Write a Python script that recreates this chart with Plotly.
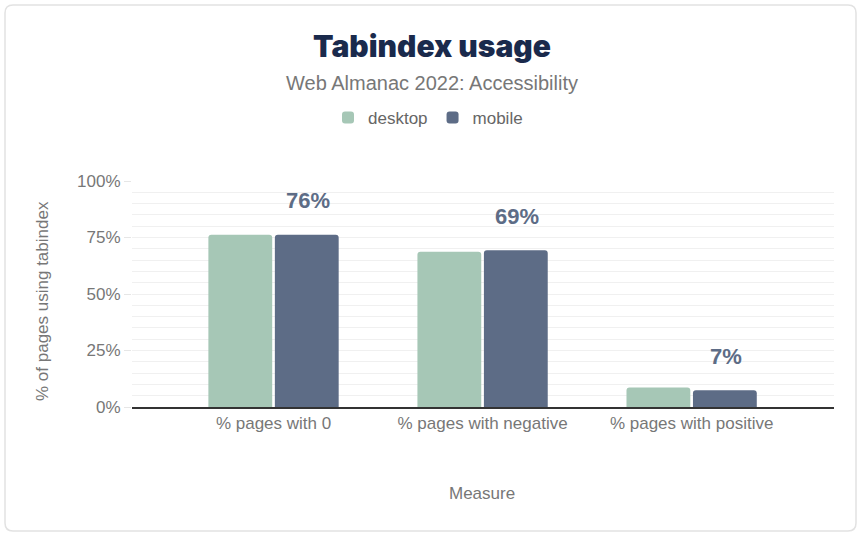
import plotly.graph_objects as go

categories = ["% pages with 0", "% pages with negative", "% pages with positive"]
desktop = [76.2, 68.7, 8.6]
mobile = [76.2, 69.4, 7.4]
label_text = ["76%", "69%", "7%"]
y_ticks = [0, 25, 50, 75, 100]
y_tick_labels = ["0%", "25%", "50%", "75%", "100%"]

W, H = 859, 533
L, R, T, B = 132, 25, 181, 126
PW, PH = W - L - R, H - T - B
FONT = "Liberation Sans, Arial, sans-serif"

def px(X):
    return (X - L) / PW

def py(Y):
    return (H - B - Y) / PH

fig = go.Figure()
fig.add_trace(go.Bar(name="desktop", x=categories, y=desktop,
                     marker=dict(color="#a6c7b6", cornerradius=3, line=dict(width=0))))
fig.add_trace(go.Bar(name="mobile", x=categories, y=mobile,
                     marker=dict(color="#5d6c86", cornerradius=3, line=dict(width=0))))

annotations = []
for c, v, t in zip(categories, mobile, label_text):
    annotations.append(dict(x=c, y=v, xref="x", yref="y", text="<b>%s</b>" % t,
                            showarrow=False, xshift=34, yshift=34, yanchor="middle",
                            font=dict(family=FONT, size=22, color="#5d6c86")))

annotations += [
    dict(x=px(432), y=py(46), xref="paper", yref="paper", text="Tabindex usage",
         showarrow=False, xanchor="center", yanchor="middle",
         font=dict(family="Inter, Roboto", size=30, color="#1a2a4c", weight=900)),
    dict(x=px(432), y=py(83), xref="paper", yref="paper", text="Web Almanac 2022: Accessibility",
         showarrow=False, xanchor="center", yanchor="middle",
         font=dict(family=FONT, size=20, color="#777777")),
    dict(x=px(42), y=py(301), xref="paper", yref="paper", text="% of pages using tabindex",
         showarrow=False, xanchor="center", yanchor="middle", textangle=-90,
         font=dict(family=FONT, size=17, color="#777777")),
    dict(x=px(482), y=py(493), xref="paper", yref="paper", text="Measure",
         showarrow=False, xanchor="center", yanchor="middle",
         font=dict(family=FONT, size=17, color="#777777")),
]

# rounded frame
x0, x1, y0, y1, r = 5, 856, 5, 531, 8
def P(X, Y):
    return "%f,%f" % (px(X), py(Y))
frame_path = ("M " + P(x0 + r, y0) + " L " + P(x1 - r, y0) + " Q " + P(x1, y0) + " " + P(x1, y0 + r) +
              " L " + P(x1, y1 - r) + " Q " + P(x1, y1) + " " + P(x1 - r, y1) +
              " L " + P(x0 + r, y1) + " Q " + P(x0, y1) + " " + P(x0, y1 - r) +
              " L " + P(x0, y0 + r) + " Q " + P(x0, y0) + " " + P(x0 + r, y0) + " Z")
shapes = [dict(type="path", xref="paper", yref="paper", path=frame_path,
               line=dict(color="#e2e2e2", width=1.5), layer="below")]

fig.update_layout(
    width=W, height=H,
    margin=dict(l=L, r=R, t=T, b=B, pad=0),
    paper_bgcolor="white", plot_bgcolor="white",
    barmode="group", bargap=0.364, bargroupgap=0.04,
    showlegend=True,
    legend=dict(orientation="h", x=px(428), y=py(118), xanchor="center", yanchor="middle",
                font=dict(family=FONT, size=17, color="#666666"),
                itemwidth=30, traceorder="normal"),
    annotations=annotations,
    shapes=shapes,
    hovermode=False,
    xaxis=dict(range=[-0.677, 2.681], showline=True, linecolor="#333333", linewidth=1.5,
               ticks="", showgrid=False, zeroline=False,
               tickfont=dict(family=FONT, size=17, color="#777777")),
    yaxis=dict(range=[0, 100], tickvals=y_ticks, ticktext=y_tick_labels,
               showgrid=True, gridcolor="#f0f0f0", gridwidth=1,
               minor=dict(dtick=5, showgrid=True, gridcolor="#f0f0f0", gridwidth=1),
               ticks="outside", ticklen=7, tickcolor="#e6e6e6", zeroline=False,
               tickfont=dict(family=FONT, size=17, color="#777777")),
)

fig.write_html("out.html", config={"displayModeBar": False},
               post_script="document.body.style.margin='0';")
